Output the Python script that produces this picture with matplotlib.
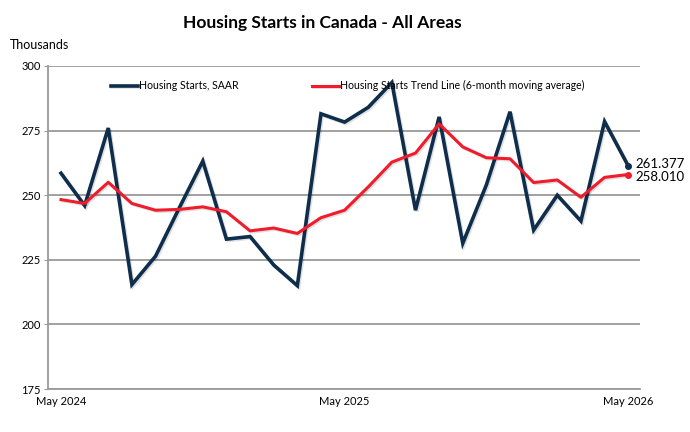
import numpy as np
import matplotlib.pyplot as plt
import matplotlib.patheffects as pe

plt.rcParams['font.family'] = ['Lato', 'DejaVu Sans']

# --- Data (thousands of units, SAAR) ---
months = ["May 2024", "Jun 2024", "Jul 2024", "Aug 2024", "Sep 2024", "Oct 2024",
          "Nov 2024", "Dec 2024", "Jan 2025", "Feb 2025", "Mar 2025", "Apr 2025",
          "May 2025", "Jun 2025", "Jul 2025", "Aug 2025", "Sep 2025", "Oct 2025",
          "Nov 2025", "Dec 2025", "Jan 2026", "Feb 2026", "Mar 2026", "Apr 2026",
          "May 2026"]
starts = [258.5, 246.0, 276.0, 215.4, 226.4, 245.0, 263.2, 233.0, 234.0, 223.0,
          215.0, 281.5, 278.3, 284.0, 293.6, 244.2, 280.3, 231.4, 254.0, 282.3,
          236.5, 250.0, 240.0, 278.5, 261.377]
trend = [248.3, 246.8, 255.0, 246.8, 244.2, 244.5, 245.5, 243.6, 236.2, 237.3,
         235.2, 241.3, 244.2, 253.2, 262.8, 266.3, 277.6, 268.7, 264.5, 264.1,
         254.9, 255.9, 249.2, 256.9, 258.010]
tick_idx = [0, 12, 24]

navy = '#0f2e4c'
red = '#f01c2c'
grid_col = '#9a9a9a'

fig = plt.figure(figsize=(6.9, 4.32), dpi=100)
ax = fig.add_axes([48 / 690, 1 - 389 / 432, 592 / 690, 323 / 432])

x = np.arange(len(months))
shadow = [pe.SimpleLineShadow(offset=(1, -1), shadow_color='#000000', alpha=0.12), pe.Normal()]
ax.plot(x, starts, color=navy, lw=2.6, solid_joinstyle='miter',
        path_effects=shadow, label='Housing Starts, SAAR', zorder=3)
ax.plot(x, trend, color=red, lw=2.2, path_effects=shadow,
        label='Housing Starts Trend Line (6-month moving average)', zorder=4)
ax.plot(x[-1], starts[-1], 'o', color=navy, ms=4, zorder=5)
ax.plot(x[-1], trend[-1], 'o', color=red, ms=4, zorder=5)

ax.text(x[-1] + 0.32, 262.2, f"{starts[-1]:.3f}", fontsize=9.5, va='center', ha='left')
ax.text(x[-1] + 0.32, 257.0, f"{trend[-1]:.3f}", fontsize=9.5, va='center', ha='left')

ax.set_xlim(-0.55, len(months) - 0.5)
ax.set_ylim(175, 300)
ax.set_yticks([175, 200, 225, 250, 275, 300])
ax.set_xticks(tick_idx)
ax.set_xticklabels([months[i] for i in tick_idx], fontsize=8)
ax.tick_params(axis='x', length=0, pad=5)
ax.tick_params(axis='y', length=3, color=grid_col, labelsize=8, pad=2)
ax.yaxis.grid(True, color=grid_col, lw=1.3)
ax.set_axisbelow(True)
for s in ['top', 'right']:
    ax.spines[s].set_visible(False)
for s in ['left', 'bottom']:
    ax.spines[s].set_color(grid_col)
    ax.spines[s].set_linewidth(1.3)

ax.legend(loc='upper left', bbox_to_anchor=(0.09, 0.985), ncol=2, frameon=False,
          fontsize=7.6, handlelength=2.6, handletextpad=0.1, columnspacing=6.9)

fig.text(322 / 690, 1 - 23 / 432, "Housing Starts in Canada - All Areas",
         ha='center', va='center', fontsize=12.5, fontweight='bold')
fig.text(10 / 690, 1 - 45 / 432, "Thousands", ha='left', va='center', fontsize=9)

fig.savefig('out.png', dpi=100)
